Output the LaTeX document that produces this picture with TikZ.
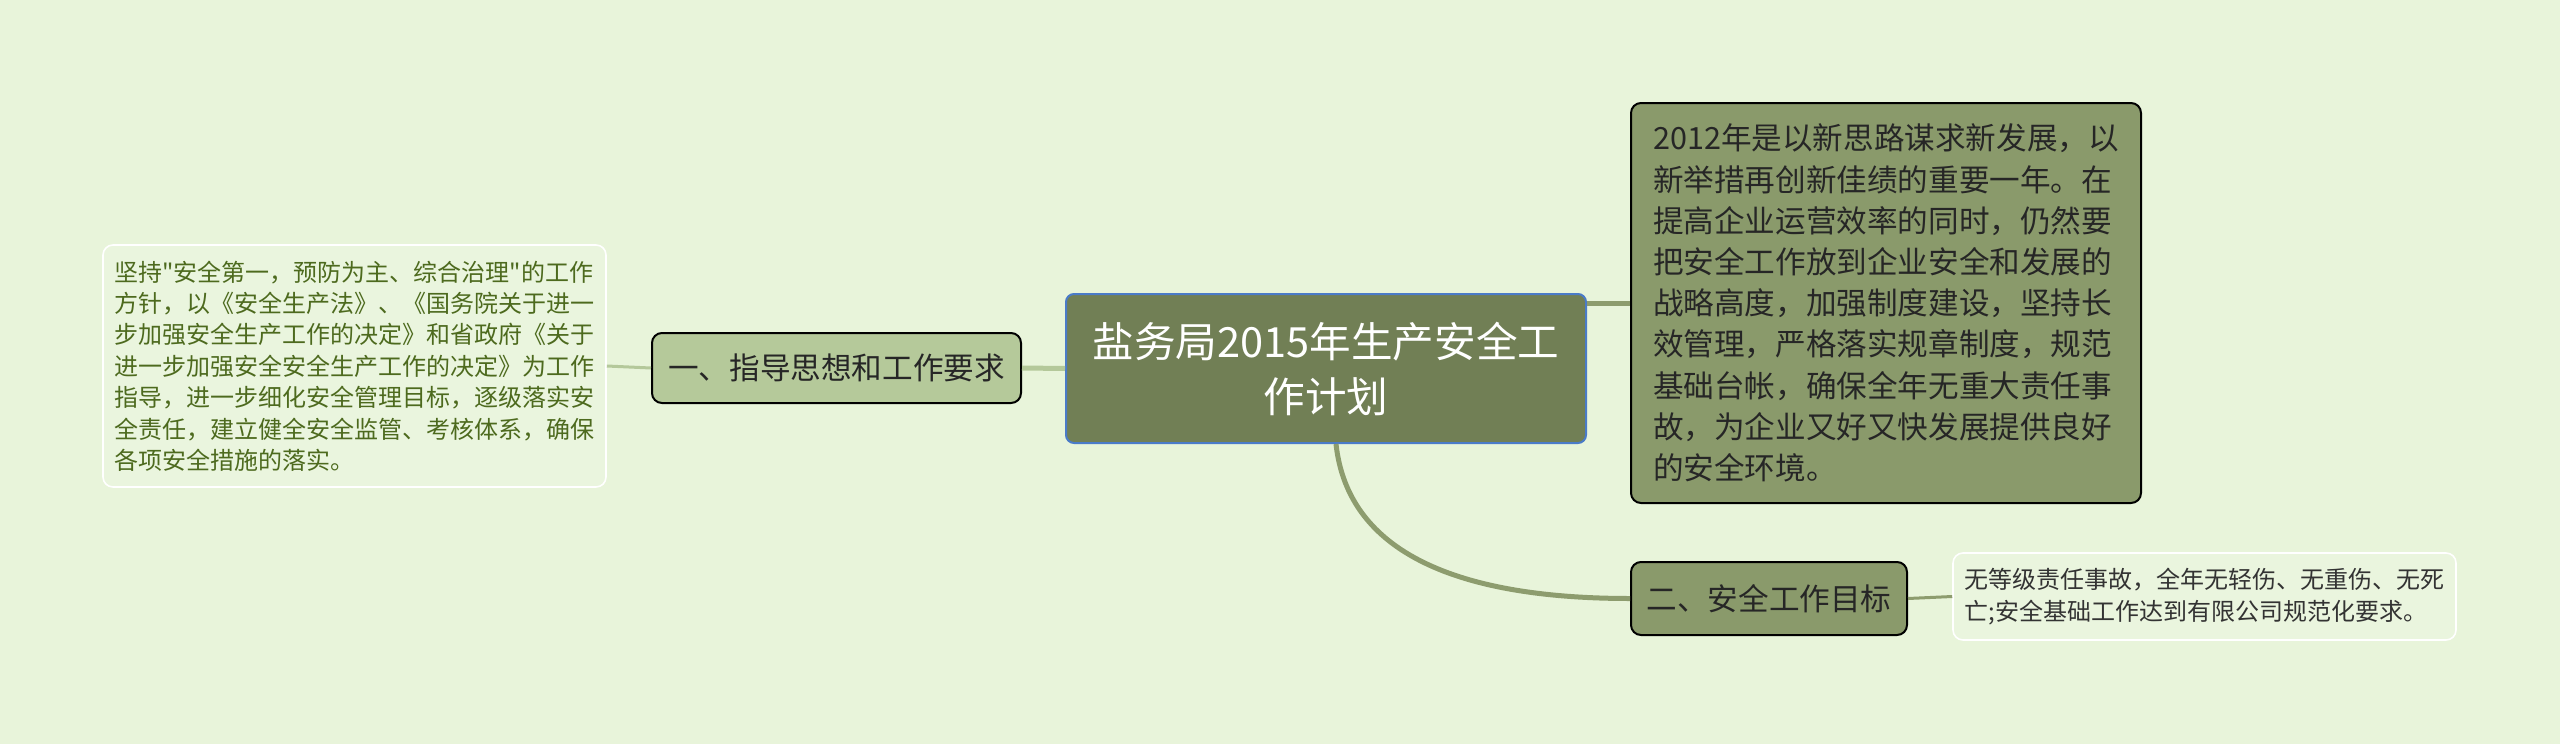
\documentclass[tikz,border=0pt]{standalone}
\usepackage{fontspec}
\setmainfont{Noto Sans CJK SC}[Ligatures=TeXOff]
\usetikzlibrary{positioning}

\definecolor{bgcol}{HTML}{E8F4DA}
\definecolor{rootfill}{HTML}{717F55}
\definecolor{rootline}{HTML}{4A7BC8}
\definecolor{lightfill}{HTML}{B5C99A}
\definecolor{midfill}{HTML}{8A9A6B}
\definecolor{leaffill}{HTML}{EAF5DE}
\definecolor{leaftext}{HTML}{4D6A1E}
\definecolor{linelight}{HTML}{B4C89A}
\definecolor{linemid}{HTML}{8D9C6E}

\begin{document}
\begin{tikzpicture}[x=0.5pt, y=-0.5pt,
    rootbox/.style={draw=rootline, fill=rootfill, line width=1pt, rounded corners=4pt, align=center, text=white, font=\fontsize{20.8pt}{27.5pt}\selectfont},
    topicbox/.style={draw=black, line width=1pt, rounded corners=5pt, align=left, text=black!85, font=\fontsize{15.3pt}{20.6pt}\selectfont},
    leafbox/.style={draw=white, fill=leaffill, line width=0.8pt, rounded corners=5pt, align=left, font=\fontsize{12pt}{15.7pt}\selectfont},
    thickline/.style={line width=2.5pt},
    thinline/.style={line width=1.5pt}]

    % background
    \fill[bgcol] (0,0) rectangle (2560,744);
    \useasboundingbox (0,0) rectangle (2560,744);

    % Central node
    \node (plan) [rootbox, minimum width=260pt, minimum height=74.5pt] at (1326,368.5) {盐务局2015年生产安全工\\作计划};

    % Left side: topic and its note
    \node (guide) [topicbox, fill=lightfill, minimum width=184.5pt, minimum height=35pt] at (836.5,368) {一、指导思想和工作要求};
    \node (guidenote) [leafbox, text=leaftext, minimum width=251.5pt, minimum height=121pt] at (354.5,366) {坚持"安全第一，预防为主、综合治理"的工作\\方针，以《安全生产法》、《国务院关于进一\\步加强安全生产工作的决定》和省政府《关于\\进一步加强安全安全生产工作的决定》为工作\\指导，进一步细化安全管理目标，逐级落实安\\全责任，建立健全安全监管、考核体系，确保\\各项安全措施的落实。};

    % Right side: summary text, topic and its note
    \node (summary) [topicbox, fill=midfill, minimum width=255pt, minimum height=200pt] at (1886,303) {2012年是以新思路谋求新发展，以\\新举措再创新佳绩的重要一年。在\\提高企业运营效率的同时，仍然要\\把安全工作放到企业安全和发展的\\战略高度，加强制度建设，坚持长\\效管理，严格落实规章制度，规范\\基础台帐，确保全年无重大责任事\\故，为企业又好又快发展提供良好\\的安全环境。};
    \node (goal) [topicbox, fill=midfill, minimum width=138pt, minimum height=36.5pt] at (1769,598.5) {二、安全工作目标};
    \node (goalnote) [leafbox, text=black!80, minimum width=251.5pt, minimum height=43.5pt] at (2204.5,596.5) {无等级责任事故，全年无轻伤、无重伤、无死\\亡;安全基础工作达到有限公司规范化要求。};

    % Connectors
    \draw[thickline, linelight] (plan.west) -- (guide.east);
    \draw[thinline, linelight] (guide.west) -- (guidenote.east);
    \draw[thickline, linemid] (plan.east |- summary.west) -- (summary.west);
    \draw[thickline, linemid] ([xshift=5pt]plan.south) .. controls +(12,110) and +(-170,0) .. (goal.west);
    \draw[thinline, linemid] (goal.east) -- (goalnote.west);

\end{tikzpicture}
\end{document}
